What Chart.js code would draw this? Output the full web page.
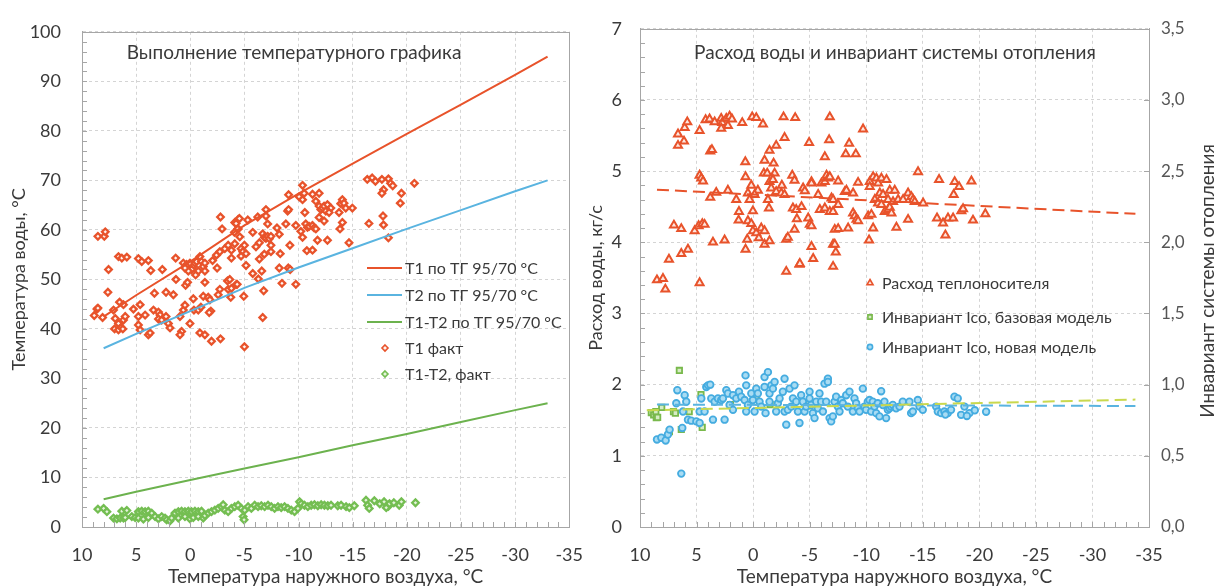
<!DOCTYPE html>
<html lang="ru">
<head>
<meta charset="utf-8">
<script src="https://cdn.jsdelivr.net/npm/chart.js@4.4.1/dist/chart.umd.min.js"></script>
<style>
  html, body { margin: 0; padding: 0; background: #fff; }
  #wrap { position: relative; width: 1215px; height: 587px; overflow: hidden; }
  .box { position: absolute; top: 0; height: 587px; }
  #boxL { left: 0; width: 600px; }
  #boxR { left: 585px; width: 630px; }
</style>
</head>
<body>
<div id="wrap">
  <div class="box" id="boxL"><canvas id="chartL"></canvas></div>
  <div class="box" id="boxR"><canvas id="chartR"></canvas></div>
</div>
<script>
// ---------- data ----------
// left panel: heating schedule 95/70 lines
const tgX    = [8, 5, 0, -5, -10, -15, -20, -25, -30, -33];
const t1Line = [42.5, 46.8, 53.6, 60.9, 67.3, 73.4, 79.4, 85.3, 91.3, 95.0];
const t2Line = [36.1, 39.0, 43.6, 48.3, 52.4, 56.3, 60.2, 64.0, 67.8, 70.0];
const dtLine = [5.6, 7.1, 9.5, 11.8, 14.1, 16.5, 18.8, 21.2, 23.6, 25.0];

// measured T1 [outdoor temp, water temp]
const t1Fact = [
  [8.53,58.7],[7.94,58.7],[7.85,59.6],[6.63,54.6],[6.32,54.3],[5.86,54.5],[7.55,52.0],
  [4.79,54.2],[4.48,53.6],[3.87,53.8],[3.65,51.8],[2.58,52.0],[1.35,54.3],[7.61,47.4],
  [8.62,44.0],[8.53,44.2],[8.87,42.7],[8.10,42.3],[7.09,43.8],[6.53,45.4],[6.17,44.9],
  [6.93,42.1],[6.63,41.1],[6.17,41.8],[6.01,42.5],[6.99,40.0],[6.63,39.8],[6.38,40.3],[6.23,40.0],
  [5.25,44.0],[4.63,44.9],[4.79,42.5],[4.17,42.8],[4.79,40.8],[4.63,39.8],[3.87,38.8],[3.71,39.2],
  [3.40,43.8],[2.94,43.4],[2.79,42.8],[2.94,42.0],[2.64,41.8],[2.24,42.5],[2.02,41.1],[1.87,40.2],
  [3.31,47.2],[2.24,47.4],[1.56,46.9],[1.32,50.0],[0.95,42.5],[0.80,39.5],[0.95,38.8],
  [0.64,43.8],[0.49,44.8],[0.43,48.8],[0.25,49.4],[0.03,41.1],[-0.28,46.1],[-0.34,43.8],[-0.74,43.8],[-0.98,44.4],
  [-0.89,39.2],[-1.35,38.8],[-1.96,37.5],[-2.79,38.0],[-1.20,46.6],[-1.66,46.4],[-1.81,45.9],[-1.90,43.6],[-1.75,43.3],
  [0.64,53.3],[0.34,53.0],[0.03,53.3],[-0.28,52.6],[-0.43,53.3],[-0.58,53.6],[-0.89,54.6],[-1.04,53.6],[-1.20,52.6],
  [-1.35,51.7],[-0.74,51.7],[-0.12,52.0],[0.18,51.7],[0.49,52.3],[-1.35,53.3],[-0.49,50.9],[-1.35,49.4],
  [-2.06,53.8],[-2.42,54.9],[-2.73,55.6],[-2.48,52.3],[-2.94,60.2],[-2.79,62.6],
  [-3.44,49.7],[-3.65,50.0],[-3.50,48.0],[-3.74,46.4],[-3.80,48.2],[-2.73,48.0],[-2.58,46.9],
  [-3.19,56.2],[-3.50,56.9],[-3.80,54.3],[-4.11,57.2],[-3.80,55.9],[-4.26,49.0],
  [-4.11,61.5],[-4.42,62.1],[-4.42,60.2],[-4.57,58.6],
  [-4.23,61.3],[-4.54,62.3],[-5.31,62.0],[-6.23,62.6],[-6.99,64.1],[-6.99,62.8],[-7.15,61.2],
  [-4.39,60.2],[-4.08,59.5],[-5.77,59.5],[-6.38,57.4],[-6.07,56.6],
  [-6.69,59.2],[-6.84,58.5],[-6.99,58.3],[-7.15,58.7],[-7.30,58.2],[-7.45,58.7],
  [-7.45,56.9],[-7.45,55.6],[-6.84,55.1],[-6.38,54.1],
  [-5.00,56.9],[-4.69,56.2],[-4.85,55.6],[-5.15,55.2],[-4.69,54.7],[-5.15,52.8],
  [-5.77,51.2],[-6.29,50.1],[-6.60,51.7],[-4.33,49.0],[-4.94,46.6],[-6.78,47.7],[-6.69,42.3],[-5.00,36.4],
  [-8.01,60.4],[-8.22,59.1],[-8.31,55.2],[-8.22,52.3],[-9.05,52.3],[-9.23,52.0],[-8.47,49.2],[-9.75,49.0],
  [-8.83,61.2],[-8.99,63.8],[-9.08,64.1],[-9.08,67.1],[-9.20,56.9],
  [-9.75,60.9],[-10.21,59.7],[-10.37,58.5],[-10.67,61.2],[-10.83,60.5],[-10.98,60.7],[-11.29,60.9],
  [-11.44,60.4],[-11.60,60.2],[-11.75,57.9],[-10.77,55.8],[-11.29,55.9],
  [-10.06,66.7],[-10.37,66.1],[-10.52,67.4],[-10.37,69.0],[-11.29,67.2],[-11.90,67.4],
  [-10.58,63.5],[-11.60,65.8],[-11.90,64.8],[-12.06,64.1],[-12.21,64.4],[-12.36,64.8],[-12.52,63.8],
  [-12.67,65.1],[-12.98,64.4],[-12.82,63.5],[-11.90,62.5],[-12.36,61.8],[-12.67,57.9],
  [-13.74,63.5],[-13.90,65.3],[-14.05,66.1],[-14.20,65.4],[-14.36,64.4],[-14.05,61.5],[-13.83,60.2],
  [-14.66,57.4],[-14.97,64.4],[-16.35,70.2],[-16.50,61.3],
  [-16.8,70.5],[-17.1,69.8],[-17.7,70.2],[-18.3,70.3],[-18.5,69.4],[-18.7,68.9],[-17.85,68.1],
  [-17.7,67.4],[-19.5,67.4],[-19.4,65.4],[-20.7,69.4],[-17.8,62.8],[-17.85,61.0],[-18.3,58.4]
];

// measured T1-T2
const dtFact = [
  [8.53,3.6],[8.0,3.75],[7.7,3.1],[7.09,1.8],[6.78,1.65],[6.47,1.8],[6.17,1.8],[6.01,1.9],[6.32,3.2],[5.86,3.35],
  [5.40,2.1],[5.09,1.9],[4.79,3.1],[4.48,3.2],[4.17,3.1],[3.87,3.2],[3.56,2.8],[3.25,2.1],[4.79,1.8],[4.33,1.6],
  [3.87,1.9],[2.94,1.65],[2.64,2.1],[2.33,1.8],[2.18,1.45],[1.87,1.25],[1.72,1.8],
  [1.41,2.8],[1.10,3.1],[0.80,3.2],[0.49,3.1],[0.18,3.2],[-0.12,3.1],[-0.43,3.2],[-0.74,3.1],[-1.04,3.2],
  [1.10,1.8],[0.49,2.1],[0.03,1.65],[-0.28,1.9],[-0.74,2.1],[-1.20,1.8],[-1.35,2.3],
  [-1.66,2.8],[-1.96,3.1],[-2.27,3.4],[-2.58,3.75],[-2.88,4.1],[-3.04,4.5],[-3.19,3.4],[-3.50,3.1],[-3.80,3.75],
  [-4.11,4.1],[-4.42,4.4],[-4.72,3.75],[-5.03,3.4],[-4.88,2.1],[-4.97,1.45],[-5.34,4.1],[-5.64,3.75],[-5.95,4.4],
  [-6.26,4.1],[-6.56,4.3],[-6.87,4.1],[-7.18,4.4],[-7.48,4.1],[-7.79,3.75],[-8.10,4.1],[-8.40,3.9],[-8.71,4.1],
  [-9.02,3.75],[-9.33,3.4],[-9.63,3.1],[-9.94,3.75],[-10.09,5.1],[-10.25,4.7],[-10.55,4.4],[-10.86,4.1],
  [-11.17,4.4],[-11.47,4.5],[-11.78,4.3],[-12.09,4.5],[-12.39,4.4],[-12.70,4.3],[-13.0,4.4],[-13.62,4.3],
  [-13.93,4.4],[-14.39,4.1],[-14.69,3.9],[-15.15,4.3],[-16.23,5.4],[-16.38,4.4],[-16.53,3.75],
  [-17.0,5.3],[-17.5,4.7],[-17.9,5.1],[-18.3,4.2],[-18.4,4.7],[-18.8,4.9],[-19.3,4.4],[-19.5,5.1],[-20.8,4.9],[-18.1,3.9]
];

// right panel: flow of heat carrier, kg/s
const flowFact = [
  [8.50,3.47],[7.97,3.49],[7.76,3.34],[7.44,3.76],[6.35,3.84],[5.76,3.90],[4.73,3.43],
  [7.00,4.24],[6.35,4.19],[5.17,4.16],[4.82,4.23],[4.49,4.26],[4.29,4.25],[3.55,4.00],[2.52,4.03],
  [3.79,4.63],[3.26,4.70],[2.23,4.73],[4.73,4.94],[4.58,4.90],[4.43,4.86],[3.79,5.28],[3.64,5.30],
  [6.64,5.36],[6.11,5.42],[6.05,5.61],[5.82,5.69],[4.73,5.57],[6.64,5.52],
  [4.20,5.72],[3.85,5.73],[3.40,5.69],[2.82,5.74],[2.73,5.68],[2.37,5.74],[2.08,5.77],[1.87,5.73],[2.23,5.64],
  [2.82,5.60],[0.96,5.68],[0.08,5.76],[-0.28,5.75],[-0.87,5.66],[-2.69,5.76],[-3.72,5.75],
  [-2.78,5.47],[-2.04,5.36],[-1.45,5.29],[0.69,5.13],[-1.01,5.15],[-1.81,5.11],
  [0.67,4.92],[-0.95,4.97],[-1.25,4.97],[-1.90,4.97],[-3.46,4.94],[-3.66,4.87],
  [0.16,4.80],[-1.45,4.85],[-1.75,4.88],[-2.54,4.80],[-1.60,4.76],[-2.04,4.71],[-2.49,4.69],[-2.78,4.67],
  [-0.42,4.73],[0.46,4.69],[-0.13,4.67],[1.49,4.60],[0.31,4.60],[-1.31,4.60],[1.25,4.43],[0.02,4.44],[-1.40,4.48],
  [1.28,4.31],[0.46,4.30],[0.16,4.26],[0.02,4.16],[-0.28,4.13],[-0.72,4.20],[-1.01,4.16],[-0.51,4.06],
  [-1.01,3.97],[-1.45,4.02],[0.52,4.04],[0.67,3.90],[-2.93,4.04],[-3.07,4.07],[-4.10,3.69],[-2.93,3.59],
  [-3.52,4.48],[-3.81,4.46],[-3.87,4.33],[-3.66,4.18],
  [-6.78,5.76],[-9.72,5.59],[-4.95,5.40],[-6.72,5.44],[-8.49,5.39],[-6.34,5.20],[-8.19,5.24],[-9.08,5.24],[-14.58,4.99],
  [-16.44,4.88],[-17.82,4.85],[-18.21,4.78],[-19.30,4.86],[-17.73,4.67],[-18.41,4.44],[-18.56,4.47],
  [-17.23,4.34],[-17.68,4.34],[-16.79,4.27],[-16.26,4.34],[-19.44,4.31],[-20.53,4.40],[-17.00,4.10],
  [-4.42,4.76],[-4.57,4.72],[-5.16,4.85],[-5.16,4.83],[-5.75,4.67],[-6.04,4.83],[-6.34,4.85],[-6.49,4.94],
  [-6.63,4.90],[-6.78,4.92],[-6.93,4.62],[-7.07,4.60],[-7.52,4.86],[-8.11,4.71],[-8.25,4.73],[-8.84,4.69],
  [-9.28,4.84],[-10.31,4.85],[-10.61,4.92],[-10.90,4.90],[-11.05,4.83],[-11.34,4.90],[-11.79,4.88],
  [-10.31,4.78],[-11.20,4.69],[-11.49,4.67],[-12.08,4.73],[-12.52,4.73],[-10.76,4.60],[-11.05,4.55],
  [-11.34,4.53],[-11.93,4.60],[-12.37,4.57],[-12.82,4.60],[-13.26,4.60],[-13.70,4.69],[-13.99,4.64],
  [-14.14,4.60],[-14.29,4.57],[-15.03,4.55],
  [-4.28,4.50],[-5.90,4.46],[-6.34,4.48],[-6.78,4.43],[-7.07,4.43],[-7.52,4.53],[-8.84,4.41],[-8.99,4.37],
  [-9.14,4.32],[-9.28,4.30],[-10.17,4.37],[-10.46,4.39],[-11.64,4.43],[-11.93,4.46],[-12.08,4.49],
  [-12.23,4.41],[-13.70,4.32],[-4.87,4.34],[-5.01,4.25],[-5.16,4.23],[-7.22,4.18],[-7.52,4.19],
  [-8.40,4.20],[-10.61,4.20],[-12.67,4.21],[-5.16,3.94],[-7.07,3.97],[-7.22,3.97],[-7.31,3.86],
  [-5.31,3.77],[-4.13,3.70],[-7.07,3.66],[-10.25,4.03]
];

// invariant Ico, base model (right axis)
const icoBase = [
  [9.0,0.804],[8.79,0.788],[8.56,0.769],[8.6,0.81],[8.44,0.77],[8.08,0.84],[7.4,0.67],[7.04,0.81],
  [6.87,0.80],[6.52,1.10],[6.35,0.685],[5.65,0.81],[4.61,0.93],[4.5,0.70],[-0.28,0.915],[2.0,0.86],
  [-1.5,0.86],[-5.0,0.85]
];

// invariant Ico, new model (right axis)
const icoNew = [
  [8.50,0.615],[8.12,0.627],[7.73,0.608],[7.53,0.650],[7.38,0.684],[6.70,0.961],[6.79,0.869],[6.26,0.696],
  [6.20,0.811],[6.05,0.926],[5.91,0.880],[5.76,0.754],[5.47,0.747],[5.02,0.742],[4.73,0.731],[4.73,0.811],
  [4.58,0.903],[4.29,0.811],[4.14,0.984],[3.99,0.995],[3.79,1.000],[3.70,0.903],[3.55,0.754],[3.40,0.880],
  [3.11,0.903],[2.82,0.892],[2.67,0.903],[2.52,0.754],[2.37,0.961],[2.23,0.938],[2.08,0.857],[1.78,0.823],
  [1.78,0.926],[1.49,0.903],[1.25,0.950],[1.05,0.915],[0.75,0.892],[0.67,1.065],[0.61,0.995],[0.61,0.811],
  [0.46,0.857],[0.16,0.938],[0.02,0.892],[-0.13,0.811],[-0.28,0.972],[-0.42,0.938],[-0.57,0.880],[-0.72,0.846],
  [-1.01,1.053],[-1.01,0.984],[-1.10,0.800],[-1.31,1.088],[-1.45,0.938],[-1.45,0.880],[-1.60,0.995],[-1.75,0.972],
  [-1.90,1.019],[-2.04,0.811],[-2.19,0.869],[-2.34,0.903],[-2.63,0.950],[-2.78,1.042],[-2.78,0.811],[-2.93,0.719],
  [-3.07,0.823],[-3.22,0.972],[-3.37,0.846],[-3.52,0.903],[-3.66,0.995],[-3.81,0.880],[-3.96,0.811],[-4.10,0.731],
  [-4.25,0.926],[-4.40,0.880],[-4.55,0.811],[-4.69,0.846],[-4.99,0.950],[-4.99,0.903],[-5.14,0.857],[-5.28,0.800],
  [-5.43,0.765],[-5.58,0.880],[-5.72,0.834],[-5.87,0.938],[-6.02,0.880],[-6.17,0.811],[-6.31,1.007],[-6.46,0.880],
  [-6.61,1.042],[-6.61,1.019],[-6.76,0.765],[-6.90,0.742],[-7.05,0.777],[-7.20,0.880],[-7.34,0.915],[-7.49,0.846],
  [-7.64,0.811],[-7.79,0.892],[-7.93,0.869],[-8.23,0.926],[-8.37,0.846],[-8.52,0.950],[-8.82,0.811],[-8.96,0.903],
  [-9.11,0.869],[-9.26,0.834],[-9.41,0.811],[-9.70,0.972],[-9.85,0.846],[-9.99,0.823],[-10.14,0.880],[-10.29,0.892],
  [-10.44,0.811],[-10.58,0.880],[-10.73,0.846],[-10.88,0.800],[-11.02,0.869],[-11.17,0.777],[-11.32,0.954],
  [-11.47,0.857],[-11.61,0.880],[-11.76,0.765],[-11.91,0.823],[-12.06,0.834],[-12.20,0.846],[-12.35,0.857],
  [-12.64,0.834],[-12.94,0.846],[-13.23,0.880],[-13.82,0.880],[-13.97,0.800],[-14.12,0.811],[-14.56,0.892],
  [-14.71,0.846],[-15.00,0.823],[-16.18,0.846],[-16.33,0.811],[-16.62,0.800],[-16.91,0.811],[-17.21,0.800],
  [-17.50,0.823],[-17.80,0.915],[-18.09,0.903],[-18.39,0.788],[-18.68,0.846],[-19.12,0.800],
  [-19.6,0.82],[-20.6,0.81],[-18.9,0.78],[-17.0,0.79],[6.35,0.375]
];

// trend lines of the right panel
const trendX       = [8.5, -33.8];
const flowTrend    = [4.74, 4.40];
const baseTrendX   = [9.4, -33.8];
const baseTrend    = [0.82, 0.895];
const newTrend     = [0.86, 0.85];

// ---------- styling ----------
const FONT = 'Lato, "Open Sans", sans-serif';
const TXT = '#3a3a3a';
const RED = '#e8532b';
const BLUE = '#5ab4e0';
const GREEN = '#6cb24e';
const AXIS = '#a6a6a6';

const zipXY = (xs, ys) => xs.map((x, i) => ({ x: x, y: ys[i] }));
const toXY = pts => pts.map(p => ({ x: p[0], y: p[1] }));

function lineDs(label, data, color, extra) {
  return Object.assign({
    label: label, data: data, showLine: true, borderColor: color, borderWidth: 2,
    pointRadius: 0, fill: false, order: 0
  }, extra || {});
}
function pointDs(label, data, style, r, border, bg, bw, extra) {
  return Object.assign({
    label: label, data: data, showLine: false, pointStyle: style, pointRadius: r,
    borderColor: border, pointBorderWidth: bw, backgroundColor: bg, order: 1
  }, extra || {});
}

// simple marker drawing for the legend
function marker(ctx, style, x, y, r, stroke, fill) {
  ctx.save();
  ctx.beginPath();
  if (style === 'rectRot') {
    ctx.moveTo(x, y - r); ctx.lineTo(x + r, y); ctx.lineTo(x, y + r); ctx.lineTo(x - r, y); ctx.closePath();
  } else if (style === 'triangle') {
    ctx.moveTo(x, y - r); ctx.lineTo(x + r * 0.87, y + r * 0.5); ctx.lineTo(x - r * 0.87, y + r * 0.5); ctx.closePath();
  } else if (style === 'rect') {
    ctx.rect(x - r * 0.7, y - r * 0.7, r * 1.4, r * 1.4);
  } else {
    ctx.arc(x, y, r, 0, Math.PI * 2);
  }
  ctx.fillStyle = fill; ctx.fill();
  ctx.lineWidth = 1.6; ctx.strokeStyle = stroke; ctx.stroke();
  ctx.restore();
}

// frame, inner minor ticks, in-plot titles and custom legend
const decor = {
  id: 'decor',
  afterDatasetsDraw(chart, args, o) {
    const ctx = chart.ctx, a = chart.chartArea;
    ctx.save();
    ctx.strokeStyle = AXIS; ctx.lineWidth = 1;
    ctx.beginPath();
    const xs = chart.scales.x;
    for (let v = -35; v <= 10; v += 1) {
      const p = Math.round(xs.getPixelForValue(v)) + 0.5;
      ctx.moveTo(p, a.bottom); ctx.lineTo(p, a.bottom - 5);
    }
    const ys = chart.scales.y;
    for (let v = ys.min; v <= ys.max + 1e-9; v += o.yMinor) {
      const p = Math.round(ys.getPixelForValue(v)) + 0.5;
      ctx.moveTo(a.left, p); ctx.lineTo(a.left + 5, p);
    }
    if (chart.scales.y2) {
      const y2 = chart.scales.y2;
      for (let v = 0; v <= 3.5; v += 0.5) {
        const p = Math.round(y2.getPixelForValue(v)) + 0.5;
        ctx.moveTo(a.right, p); ctx.lineTo(a.right - 5, p);
      }
    }
    ctx.stroke();
    ctx.strokeRect(Math.round(a.left) + 0.5, Math.round(a.top) + 0.5,
                   Math.round(a.right - a.left), Math.round(a.bottom - a.top));

    ctx.fillStyle = TXT;
    ctx.textBaseline = 'middle';
    ctx.font = '19px ' + FONT;
    ctx.textAlign = 'center';
    ctx.fillText(o.title, o.titleX, 53);

    if (o.sideTitle) {
      ctx.save();
      ctx.translate(o.sideTitle.x, o.sideTitle.y);
      ctx.rotate(-Math.PI / 2);
      ctx.font = '19px ' + FONT;
      ctx.fillText(o.sideTitle.text, 0, 0);
      ctx.restore();
    }

    ctx.font = '16px ' + FONT;
    ctx.textAlign = 'left';
    o.legend.forEach(it => {
      const ds = chart.data.datasets[it.ds];
      if (ds.showLine && !ds.pointRadius) {
        ctx.save();
        ctx.strokeStyle = ds.borderColor; ctx.lineWidth = 2;
        ctx.beginPath(); ctx.moveTo(it.x0, it.y); ctx.lineTo(it.x1, it.y); ctx.stroke();
        ctx.restore();
      } else {
        marker(ctx, ds.pointStyle, it.mx, it.y, it.r, ds.borderColor, ds.backgroundColor);
      }
      ctx.fillStyle = TXT;
      ctx.fillText(ds.label, it.tx, it.y + 1);
    });
    ctx.restore();
  }
};

Chart.defaults.font.family = FONT;
Chart.defaults.color = TXT;

function xScale() {
  return {
    type: 'linear', reverse: true, min: -35, max: 10,
    afterFit: s => { s.height = 60; },
    ticks: { stepSize: 5, font: { size: 18 }, color: TXT, padding: 17, maxRotation: 0 },
    grid: { color: '#d4d4d4', drawTicks: false },
    border: { display: true, color: AXIS, dash: [3, 3] },
    title: { display: true, text: 'Температура наружного воздуха, °С', font: { size: 19 }, color: TXT,
             padding: { top: 0, bottom: -1 } }
  };
}

// ---------- left panel ----------
new Chart(document.getElementById('chartL'), {
  type: 'scatter',
  data: {
    datasets: [
      lineDs('T1 по ТГ 95/70 °С', zipXY(tgX, t1Line), RED),
      lineDs('T2 по ТГ 95/70 °С', zipXY(tgX, t2Line), BLUE),
      lineDs('T1-T2 по ТГ 95/70 °С', zipXY(tgX, dtLine), GREEN),
      pointDs('T1 факт', toXY(t1Fact), 'rectRot', 3.3, RED, '#fff4f0', 2.3),
      pointDs('T1-T2, факт', toXY(dtFact), 'rectRot', 3.3, '#74be52', '#e4f3da', 2.3)
    ]
  },
  options: {
    responsive: true, maintainAspectRatio: false, animation: false,
    layout: { padding: { top: 19, right: 29, left: 0, bottom: 0 } },
    scales: {
      x: xScale(),
      y: {
        min: 0, max: 100,
        afterFit: s => { s.width = 82; },
        ticks: { stepSize: 10, font: { size: 18 }, color: TXT, padding: 21 },
        grid: { color: '#d4d4d4', drawTicks: false },
        border: { display: true, color: AXIS, dash: [3, 3] },
        title: { display: true, text: 'Температура воды, °С', font: { size: 18 }, color: TXT,
                 padding: { top: 8, bottom: 0 } }
      }
    },
    plugins: {
      legend: { display: false }, tooltip: { enabled: false },
      decor: {
        yMinor: 2, title: 'Выполнение температурного графика', titleX: 294,
        legend: [
          { ds: 0, y: 268, x0: 367, x1: 402, tx: 405 },
          { ds: 1, y: 295, x0: 367, x1: 402, tx: 405 },
          { ds: 2, y: 322, x0: 367, x1: 402, tx: 405 },
          { ds: 3, y: 348, mx: 385, r: 3, tx: 405 },
          { ds: 4, y: 374, mx: 385, r: 3, tx: 405 }
        ]
      }
    }
  },
  plugins: [decor]
});

// ---------- right panel ----------
new Chart(document.getElementById('chartR'), {
  type: 'scatter',
  data: {
    datasets: [
      pointDs('Расход теплоносителя', toXY(flowFact), 'triangle', 4.6, RED, '#fde6df', 2, { yAxisID: 'y' }),
      pointDs('Инвариант Ico, базовая модель', toXY(icoBase), 'rect', 3.8, '#79b94c', '#d6ecc4', 1.8, { yAxisID: 'y2', order: 2 }),
      pointDs('Инвариант Ico, новая модель', toXY(icoNew), 'circle', 3.3, '#45ace0', '#a9dcf3', 1.8, { yAxisID: 'y2' }),
      lineDs('flow trend', zipXY(trendX, flowTrend), RED, { yAxisID: 'y', borderDash: [12, 6] }),
      lineDs('base trend', zipXY(baseTrendX, baseTrend), '#c9d84e', { yAxisID: 'y2', borderDash: [12, 6] }),
      lineDs('new trend', zipXY(trendX, newTrend), BLUE, { yAxisID: 'y2', borderDash: [12, 6] })
    ]
  },
  options: {
    responsive: true, maintainAspectRatio: false, animation: false,
    layout: { padding: { top: 21, right: 0, left: 0, bottom: 0 } },
    scales: {
      x: xScale(),
      y: {
        position: 'left', min: 0, max: 7,
        afterFit: s => { s.width = 55; },
        ticks: { stepSize: 1, font: { size: 18 }, color: TXT, padding: 18 },
        grid: { color: '#d4d4d4', drawTicks: false },
        border: { display: true, color: AXIS, dash: [3, 3] },
        title: { display: true, text: 'Расход воды, кг/с', font: { size: 18 }, color: TXT,
                 padding: { top: 0, bottom: 0 } }
      },
      y2: {
        position: 'right', min: 0, max: 3.5,
        afterFit: s => { s.width = 66; },
        ticks: { stepSize: 0.5, font: { size: 17 }, color: '#555', padding: 12,
                 callback: v => v.toFixed(1).replace('.', ',') },
        grid: { drawOnChartArea: false, drawTicks: false },
        border: { display: true, color: AXIS }
      }
    },
    plugins: {
      legend: { display: false }, tooltip: { enabled: false },
      decor: {
        yMinor: 0.2, title: 'Расход воды и инвариант системы отопления', titleX: 310,
        sideTitle: { text: 'Инвариант системы отопления', x: 623, y: 281 },
        legend: [
          { ds: 0, y: 283, mx: 285, r: 3.5, tx: 297 },
          { ds: 1, y: 317, mx: 285, r: 3, tx: 297 },
          { ds: 2, y: 347, mx: 285, r: 2.6, tx: 297 }
        ]
      }
    }
  },
  plugins: [decor]
});
</script>
</body>
</html>
